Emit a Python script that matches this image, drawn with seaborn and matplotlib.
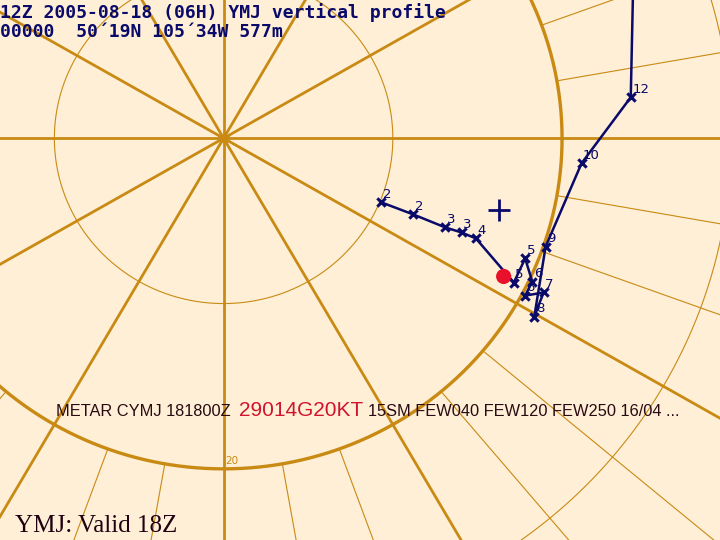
"""
Hodograph (vertical wind profile) for YMJ, drawn with seaborn on a polar-style grid.
"""

import numpy as np
import pandas as pd
import matplotlib.pyplot as plt
import seaborn as sns

# wind profile, u/v components in ring units (ring 10 and ring 20 drawn)
level_labels = ["2", "2", "3", "3", "4", "5", "5", "6", "6", "7", "8", "9", "10", "12", ""]
u_wind = [9.33, 11.21, 13.09, 14.06, 14.91, 17.15, 17.82, 18.24, 17.82, 18.91, 18.36, 19.03, 21.15, 24.06, 24.30]
v_wind = [-3.88, -4.61, -5.39, -5.70, -6.06, -8.73, -7.27, -8.67, -9.52, -9.33, -10.79, -6.55, -1.52, 2.48, 14.0]

metar_u, metar_v = [16.55], [-8.36]
storm_u, storm_v = [16.30], [-4.36]

ring_speeds = [10, 20, 30]
major_angles = np.arange(0, 360, 30)
minor_angles = np.arange(0, 360, 10)

title_lines = ["12Z 2005-08-18 (06H) YMJ vertical profile", "00000  50´19N 105´34W 577m"]
metar_parts = ["METAR CYMJ 181800Z", "29014G20KT", "15SM FEW040 FEW120 FEW250 16/04 ..."]
valid_text = "YMJ: Valid 18Z"

BG = "#FEEFD6"
GRID = "#C98A14"
NAVY = "#0A0A6A"

sns.set_style("white")
plt.rcParams["font.family"] = ["DejaVu Sans"]

fig = plt.figure(figsize=(7.2, 5.4), dpi=100)
fig.patch.set_facecolor(BG)
ax = fig.add_axes([0, 0, 1, 1])
ax.set_facecolor(BG)
ax.set_xlim(-218 / 16.5, 484 / 16.5)
ax.set_ylim(-401 / 16.5, 138 / 16.5)
ax.axis("off")

# grid: rings
theta = np.linspace(0, 2 * np.pi, 721)
for r in ring_speeds:
    lw = 2.4 if r == 20 else 0.8
    ax.plot(r * np.cos(theta), r * np.sin(theta), color=GRID, lw=lw, zorder=1)

# grid: thick spokes through the centre, thin 10 degree spokes beyond ring 20
for a in major_angles:
    t = np.deg2rad(a)
    ax.plot([0, 60 * np.cos(t)], [0, 60 * np.sin(t)], color=GRID, lw=2.0, zorder=1)
for a in minor_angles:
    if a % 30 == 0:
        continue
    t = np.deg2rad(a)
    ax.plot([20 * np.cos(t), 60 * np.cos(t)], [20 * np.sin(t), 60 * np.sin(t)],
            color=GRID, lw=0.8, zorder=1)
ax.scatter([0], [0], s=60, marker="*", color=GRID, zorder=2)
ax.text(0.1, -19.7, "20", color=GRID, fontsize=7.5, ha="left", va="baseline")

# hodograph
prof = pd.DataFrame({"u": u_wind, "v": v_wind, "lab": level_labels})
sns.lineplot(data=prof, x="u", y="v", sort=False, estimator=None, color=NAVY,
             lw=1.8, ax=ax, zorder=4)
sns.scatterplot(data=prof.iloc[:-1], x="u", y="v", marker="x", s=36, color=NAVY,
                linewidth=2.2, ax=ax, zorder=5)
for _, row in prof.iterrows():
    if row["lab"]:
        ax.annotate(row["lab"], (row["u"], row["v"]), xytext=(1, 3),
                    textcoords="offset points", color=NAVY, fontsize=9.5, zorder=6)

# METAR wind and storm motion
sns.scatterplot(x=metar_u, y=metar_v, s=120, color="#E8102A", edgecolor="none", ax=ax, zorder=6)
sns.scatterplot(x=storm_u, y=storm_v, marker="+", s=260, color=NAVY, linewidth=2, ax=ax, zorder=6)

# texts
W, H = 702, 539
for i, line in enumerate(title_lines):
    ax.text(0 / W, 1 - (18 + 19 * i) / H, line, transform=ax.transAxes, color=NAVY,
            fontsize=13, family="DejaVu Sans Mono", weight="bold", va="baseline")

metar_x = [55, 233, 359]
metar_size = [11.8, 15, 11.8]
metar_col = ["#2A0A12", "#D0142E", "#2A0A12"]
for x, s, c, t in zip(metar_x, metar_size, metar_col, metar_parts):
    ax.text(x / W, 1 - 415 / H, t, transform=ax.transAxes, color=c, fontsize=s,
            family="Liberation Sans", va="baseline")

ax.text(15 / W, 1 - 531 / H, valid_text, transform=ax.transAxes, color="#200010",
        fontsize=18, family="Liberation Serif", va="baseline")

plt.savefig("out.png", dpi=100, facecolor=BG)
